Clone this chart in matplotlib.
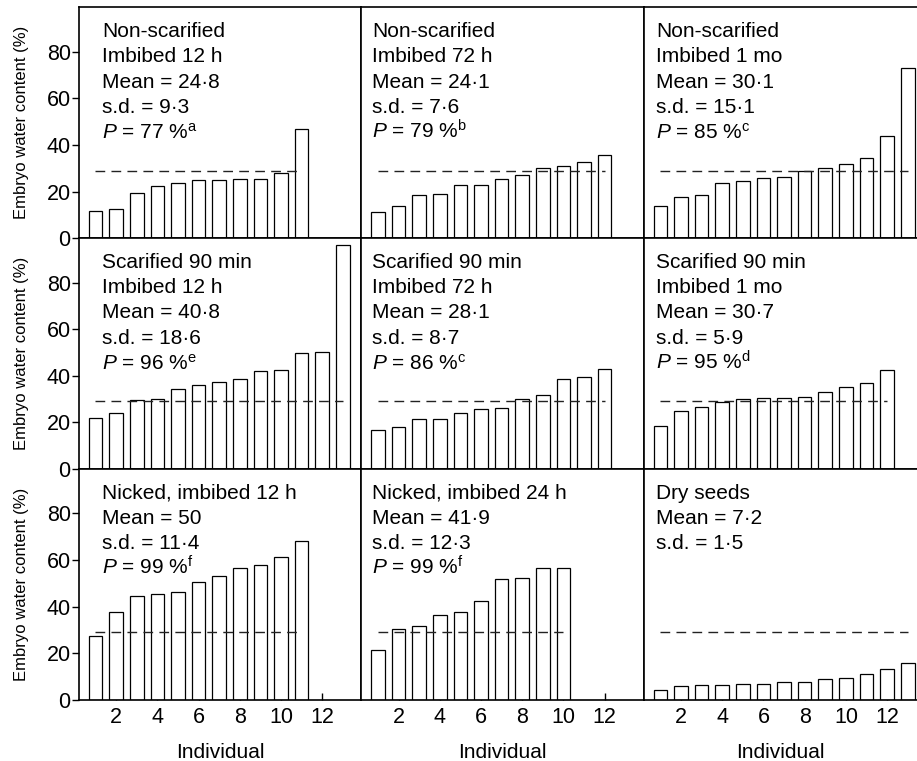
import matplotlib
matplotlib.use("Agg")
import matplotlib.pyplot as plt

plt.rcParams['font.family'] = ['Liberation Sans', 'DejaVu Sans']
plt.rcParams['mathtext.fontset'] = 'custom'
plt.rcParams['mathtext.rm'] = 'Liberation Sans'
plt.rcParams['mathtext.it'] = 'Liberation Sans:italic'

# DATOS
# -----
# embryo water content (%) per individual
ns_12h = [11.5, 12.4, 19.4, 22.4, 23.6, 24.8, 24.8, 25.2, 25.2, 27.9, 46.8]
ns_72h = [11.1, 13.9, 18.5, 18.8, 22.8, 22.8, 25.2, 27.2, 30.0, 30.8, 32.7, 35.7]
ns_1mo = [13.9, 17.6, 18.6, 23.8, 24.6, 25.9, 26.3, 28.9, 30.2, 31.6, 34.4, 43.7, 73.1]
sc_12h = [22.1, 24.1, 29.5, 29.9, 34.4, 36.1, 37.5, 38.5, 42.1, 42.4, 49.6, 50.2, 95.9]
sc_72h = [16.9, 18.2, 21.3, 21.3, 24.1, 25.8, 26.4, 30.1, 31.8, 38.7, 39.7, 43.1]
sc_1mo = [18.6, 24.9, 26.8, 28.6, 30.2, 30.5, 30.5, 30.8, 33.1, 35.4, 37.0, 42.3]
nk_12h = [27.5, 37.6, 44.8, 45.3, 46.1, 50.8, 53.0, 56.8, 57.7, 61.5, 68.0]
nk_24h = [21.3, 30.3, 31.8, 36.3, 37.8, 42.4, 51.8, 52.2, 56.7, 56.8]
dry = [4.3, 5.9, 6.3, 6.4, 6.7, 6.7, 7.7, 7.8, 8.9, 9.4, 11.0, 13.1, 16.0]

series = [ns_12h, ns_72h, ns_1mo, sc_12h, sc_72h, sc_1mo, nk_12h, nk_24h, dry]

treatments = [["Non-scarified", "Imbibed 12 h"], ["Non-scarified", "Imbibed 72 h"],
              ["Non-scarified", "Imbibed 1 mo"], ["Scarified 90 min", "Imbibed 12 h"],
              ["Scarified 90 min", "Imbibed 72 h"], ["Scarified 90 min", "Imbibed 1 mo"],
              ["Nicked, imbibed 12 h"], ["Nicked, imbibed 24 h"], ["Dry seeds"]]
means = ["24·8", "24·1", "30·1", "40·8", "28·1", "30·7", "50", "41·9", "7·2"]
sds = ["9·3", "7·6", "15·1", "18·6", "8·7", "5·9", "11·4", "12·3", "1·5"]
p_vals = ["77", "79", "85", "96", "86", "95", "99", "99", None]
p_sup = ["a", "b", "c", "e", "c", "d", "f", "f", None]

umbral = 29
yticks = [0, 20, 40, 60, 80]
xticks = [2, 4, 6, 8, 10, 12]

# Graficar
# --------
fig = plt.figure(figsize=(9.17, 7.61), dpi=100)
gs = fig.add_gridspec(3, 3, left=79/917, right=1.0, top=1 - 7.3/761,
                      bottom=1 - 700/761, hspace=0, wspace=0,
                      width_ratios=[13.7, 13.7, 13.25])

xlims = [(0.2, 13.9), (0.2, 13.9), (0.2, 13.45)]
text_x = [0.083, 0.039, 0.046]
row_h = 231.0
y0 = 1 - 29.5 / row_h      # baseline of first line
dy = 25.4 / row_h          # line step

for i in range(9):
    row, col = divmod(i, 3)
    ax = fig.add_subplot(gs[row, col])
    vals = series[i]
    xs = list(range(1, len(vals) + 1))
    ax.bar(xs, vals, width=0.66, facecolor='white', edgecolor='black',
           linewidth=0.9, zorder=2)
    ax.plot([1, len(vals)], [umbral, umbral], color='#222222', lw=1.0,
            ls=(0, (7, 4.5)), zorder=3)
    ax.set_xlim(*xlims[col])
    ax.set_ylim(0, 99)

    lines = treatments[i] + ["Mean = " + means[i], "s.d. = " + sds[i]]
    if p_vals[i] is not None:
        lines.append("$\\mathit{P}$ = " + p_vals[i] + " %$^{\\mathrm{" + p_sup[i] + "}}$")
    for k, t in enumerate(lines):
        ax.text(text_x[col], y0 - k * dy, t, transform=ax.transAxes,
                ha='left', va='baseline', fontsize=15)

    for sp in ax.spines.values():
        sp.set_linewidth(1.2)
    if col == 2:
        ax.spines['right'].set_visible(False)

    ax.set_xticks(xticks)
    ax.set_yticks(yticks)
    ax.tick_params(left=False, bottom=False, labelleft=False, labelbottom=False)
    if col == 0:
        ax.tick_params(axis='y', left=True, labelleft=True, direction='out',
                       length=5, width=1, pad=1, labelsize=15.5)
    if row == 2:
        ax.tick_params(axis='x', bottom=True, labelbottom=True, direction='in',
                       length=5, width=1, pad=5, labelsize=15.5)
        ax.set_xlabel('Individual', fontsize=15, labelpad=11)

for row in range(3):
    yc = 1 - (7.3 + row_h * row + row_h / 2) / 761
    fig.text(22/917, yc, 'Embryo water content (%)', rotation=90,
             ha='center', va='center', fontsize=12)

plt.savefig('out.png', dpi=100)
